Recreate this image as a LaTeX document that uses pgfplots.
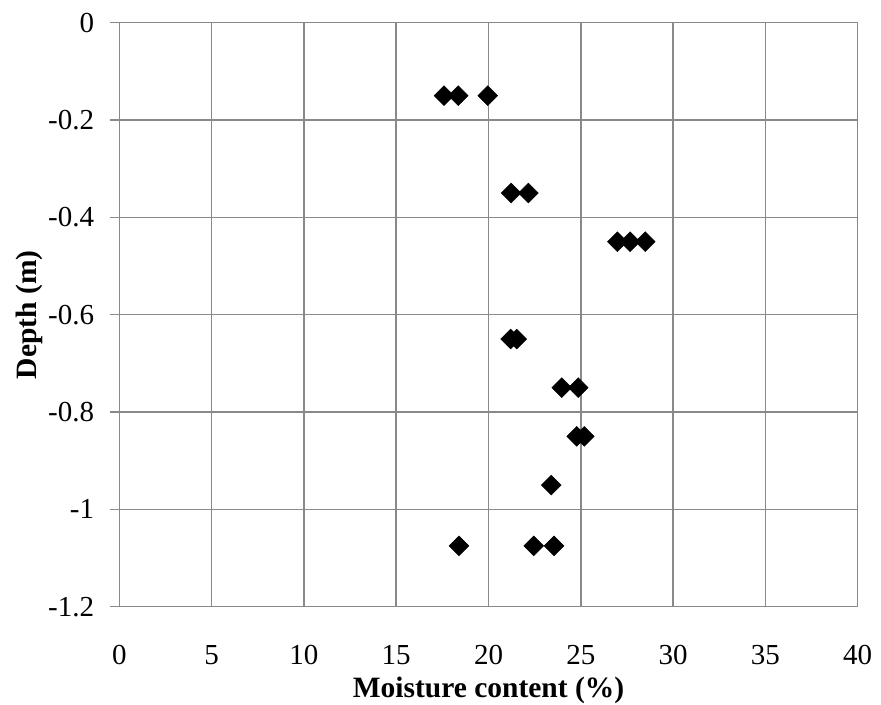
\documentclass[border=0pt]{standalone}
\usepackage{fontspec}
\setmainfont{Liberation Serif}
\usepackage{pgfplots}
\pgfplotsset{compat=1.18}
\definecolor{gridgray}{RGB}{137,137,137}

% Moisture content (%) against sampling depth (m)
\pgfplotstableread{
x      y
17.59  -0.15
18.36  -0.15
19.96  -0.15
21.23  -0.35
22.16  -0.35
26.98  -0.45
27.67  -0.45
28.49  -0.45
21.20  -0.65
21.53  -0.65
23.97  -0.75
24.86  -0.75
24.78  -0.85
25.19  -0.85
23.40  -0.95
18.40  -1.075
22.45  -1.075
23.55  -1.075
}\moisture

\begin{document}
\begin{tikzpicture}
\begin{axis}[
  name=ax,
  at={(0,0)}, anchor=south west,
  scale only axis,
  width=738.4pt, height=584pt,
  xmin=0, xmax=40, ymin=-1.2, ymax=0,
  xtick={0,5,10,15,20,25,30,35,40},
  ytick={-1.2,-1,-0.8,-0.6,-0.4,-0.2,0},
  xtick pos=bottom, ytick pos=left,
  tick align=outside,
  major tick length=9pt,
  x tick style={draw=none},
  y tick style={gridgray, line width=1.5pt},
  axis line style={gridgray, line width=1.5pt},
  grid=major,
  major grid style={gridgray, line width=1.5pt},
  /pgf/number format/assume math mode=true,
  ticklabel style={font=\fontsize{29}{34}\selectfont, text=black},
  xticklabel style={anchor=base, inner sep=0pt, yshift=-48.8pt},
  yticklabel style={anchor=east, inner sep=0pt, xshift=-16pt},
  label style={font=\bfseries\fontsize{29.5}{34}\selectfont, text=black, inner sep=0pt},
  xlabel={Moisture content (\%)},
  ylabel={Depth (m)},
  xlabel style={at={(axis description cs:0.5,-0.1563)}, anchor=base},
  ylabel style={at={(axis description cs:-0.1115,0.5)}, anchor=base, rotate=0},
]
\addplot[only marks, mark=square*, mark size=7pt,
  mark options={rotate=45, fill=black, draw=black, line width=0.5pt}]
  table[x=x, y=y] {\moisture};
\end{axis}
\path ([shift={(-119.3pt,-97.3pt)}]ax.south west) rectangle ([shift={(23.3pt,22.7pt)}]ax.north east);
\end{tikzpicture}
\end{document}
